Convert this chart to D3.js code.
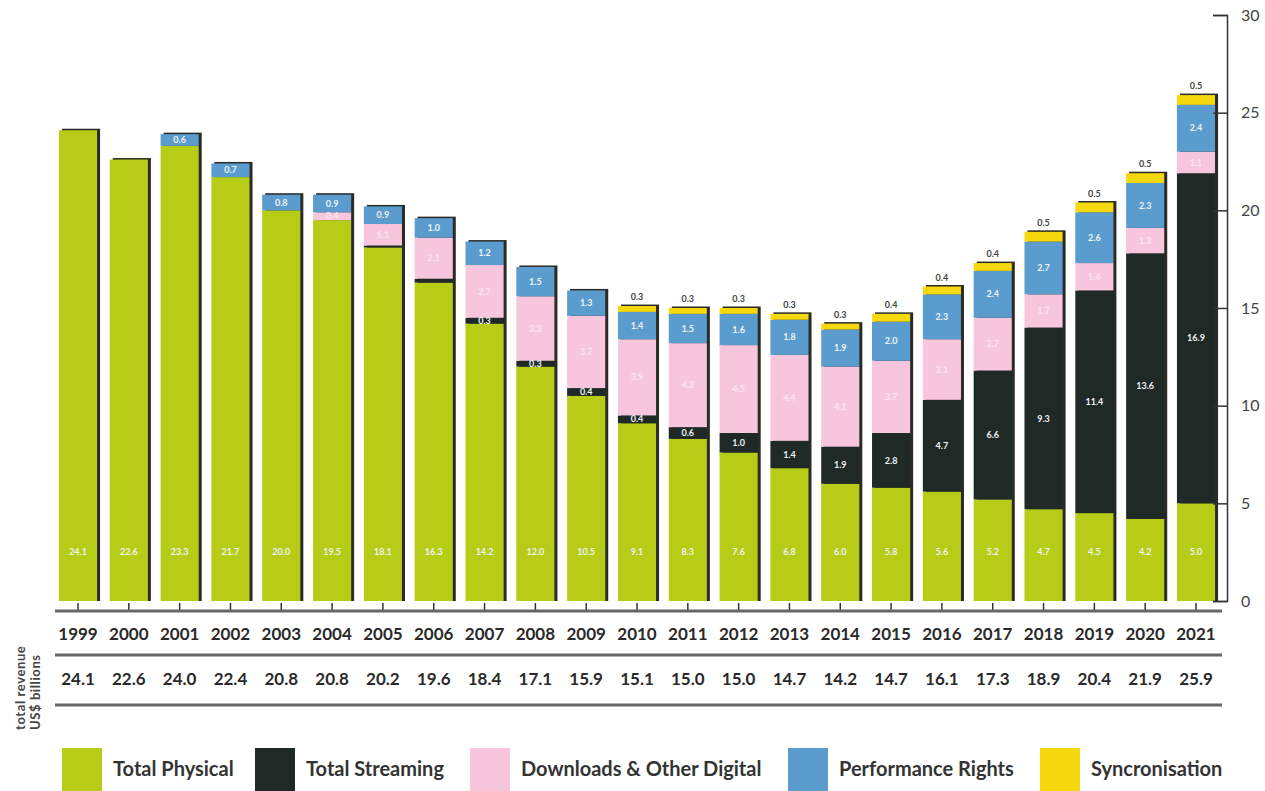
<!DOCTYPE html>
<html>
<head>
<meta charset="utf-8">
<script src="https://cdn.jsdelivr.net/npm/d3@7"></script>
<style>
  body { margin: 0; background: #fff; }
  svg { display: block; font-family: Lato, "Open Sans", sans-serif; }
</style>
</head>
<body>
<div id="chart"></div>
<script>
// values in US$ billions
const years      = ['1999','2000','2001','2002','2003','2004','2005','2006','2007','2008','2009','2010','2011','2012','2013','2014','2015','2016','2017','2018','2019','2020','2021'];
const physical   = [24.1, 22.6, 23.3, 21.7, 20.0, 19.5, 18.1, 16.3, 14.2, 12.0, 10.5, 9.1, 8.3, 7.6, 6.8, 6.0, 5.8, 5.6, 5.2, 4.7, 4.5, 4.2, 5.0];
const streaming  = [0, 0, 0, 0, 0, 0, 0.1, 0.2, 0.3, 0.3, 0.4, 0.4, 0.6, 1.0, 1.4, 1.9, 2.8, 4.7, 6.6, 9.3, 11.4, 13.6, 16.9];
const downloads  = [0, 0, 0, 0, 0, 0.4, 1.1, 2.1, 2.7, 3.3, 3.7, 3.9, 4.3, 4.5, 4.4, 4.1, 3.7, 3.1, 2.7, 1.7, 1.4, 1.3, 1.1];
const perfRights = [0, 0, 0.6, 0.7, 0.8, 0.9, 0.9, 1.0, 1.2, 1.5, 1.3, 1.4, 1.5, 1.6, 1.8, 1.9, 2.0, 2.3, 2.4, 2.7, 2.6, 2.3, 2.4];
const sync       = [0, 0, 0, 0, 0, 0, 0, 0, 0, 0, 0, 0.3, 0.3, 0.3, 0.3, 0.3, 0.4, 0.4, 0.4, 0.5, 0.5, 0.5, 0.5];
const totals     = ['24.1','22.6','24.0','22.4','20.8','20.8','20.2','19.6','18.4','17.1','15.9','15.1','15.0','15.0','14.7','14.2','14.7','16.1','17.3','18.9','20.4','21.9','25.9'];
const yTicks     = [0, 5, 10, 15, 20, 25, 30];

const seriesKeys   = ['physical', 'streaming', 'downloads', 'perfRights', 'sync'];
const seriesNames  = ['Total Physical', 'Total Streaming', 'Downloads & Other Digital', 'Performance Rights', 'Syncronisation'];
const seriesColors = ['#b6cc16', '#1f2a27', '#f7c6dc', '#5a9ccd', '#f6d80e'];

const width = 1265, height = 791;

const rows = years.map((y, i) => ({
  year: y,
  physical: physical[i],
  streaming: streaming[i],
  downloads: downloads[i],
  perfRights: perfRights[i],
  sync: sync[i]
}));

const svg = d3.select('#chart')
  .append('svg')
    .attr('width', width)
    .attr('height', height);

const x = d3.scaleBand()
  .domain(years)
  .range([52.6, 1221.4])
  .paddingInner(0.25)
  .paddingOuter(0.125);

const y = d3.scaleLinear()
  .domain([0, 30])
  .range([601, 15]);

const color = d3.scaleOrdinal()
  .domain(seriesKeys)
  .range(seriesColors);

const stacked = d3.stack().keys(seriesKeys)(rows);

// drop shadow behind each bar
const barTotal = i => physical[i] + streaming[i] + downloads[i] + perfRights[i] + sync[i];
svg.append('g')
  .selectAll('rect')
  .data(years.map((yr, i) => i))
  .enter()
    .append('rect')
    .attr('x', i => x(years[i]) + 3)
    .attr('y', i => y(barTotal(i)) - 1.5)
    .attr('width', x.bandwidth())
    .attr('height', i => y(0) - y(barTotal(i)) + 1.5)
    .attr('fill', '#2a2a26');

// stacked segments
const layers = svg.append('g')
  .selectAll('g')
  .data(stacked)
  .enter()
    .append('g')
    .attr('fill', d => color(d.key));

layers.selectAll('rect')
  .data(d => d)
  .enter()
    .append('rect')
    .attr('x', d => x(d.data.year))
    .attr('y', d => y(d[1]))
    .attr('width', x.bandwidth())
    .attr('height', d => Math.max(0, y(d[0]) - y(d[1])));

// value labels inside segments
const fmt = d3.format('.1f');
stacked.forEach(layer => {
  if (layer.key === 'sync') return;
  const g = svg.append('g');
  g.selectAll('text')
    .data(layer.filter(d => d[1] - d[0] >= 0.3))
    .enter()
      .append('text')
      .attr('x', d => x(d.data.year) + x.bandwidth() / 2)
      .attr('y', d => layer.key === 'physical' ? y(2.5) : y((d[0] + d[1]) / 2))
      .attr('dy', '0.35em')
      .attr('text-anchor', 'middle')
      .attr('font-size', 9)
      .attr('font-weight', 700)
      .attr('fill', layer.key === 'downloads' ? '#fbe6ef' : '#eef3f6')
      .text(d => fmt(d[1] - d[0]));
});

// syncronisation labels sit above the bar
const syncLayer = stacked.find(s => s.key === 'sync');
svg.append('g')
  .selectAll('text')
  .data(syncLayer.filter(d => d[1] - d[0] > 0))
  .enter()
    .append('text')
    .attr('x', d => x(d.data.year) + x.bandwidth() / 2)
    .attr('y', d => y(d[1]) - 6)
    .attr('text-anchor', 'middle')
    .attr('font-size', 9)
    .attr('font-weight', 700)
    .attr('fill', '#444')
    .text(d => fmt(d[1] - d[0]));

// right axis
const axis = svg.append('g')
  .attr('transform', 'translate(1227,0)')
  .call(d3.axisLeft(y).tickValues(yTicks).tickSize(14).tickFormat(d3.format('d')));
axis.select('.domain').attr('stroke', '#333').attr('stroke-width', 1.5);
axis.selectAll('.tick line').attr('stroke', '#333').attr('stroke-width', 1.5);
axis.selectAll('.tick text')
  .attr('x', 14)
  .attr('text-anchor', 'start')
  .attr('font-size', 16)
  .attr('font-family', 'Lato, sans-serif')
  .attr('fill', '#444');

// baseline ticks under bars
svg.append('g')
  .selectAll('line')
  .data(years)
  .enter()
    .append('line')
    .attr('x1', d => x(d) + x.bandwidth() / 2)
    .attr('x2', d => x(d) + x.bandwidth() / 2)
    .attr('y1', 603)
    .attr('y2', 611)
    .attr('stroke', '#333')
    .attr('stroke-width', 1.5);

// horizontal rules of the table
[611, 655, 705].forEach(ly => {
  svg.append('line')
    .attr('x1', 55).attr('x2', 1222)
    .attr('y1', ly).attr('y2', ly)
    .attr('stroke', '#666')
    .attr('stroke-width', 3);
});

// year row
svg.append('g')
  .selectAll('text')
  .data(years)
  .enter()
    .append('text')
    .attr('x', d => x(d) + x.bandwidth() / 2)
    .attr('y', 640)
    .attr('text-anchor', 'middle')
    .attr('font-size', 17)
    .attr('font-weight', 700)
    .attr('fill', '#2a2a2a')
    .text(d => d);

// totals row
svg.append('g')
  .selectAll('text')
  .data(totals)
  .enter()
    .append('text')
    .attr('x', (d, i) => x(years[i]) + x.bandwidth() / 2)
    .attr('y', 685)
    .attr('text-anchor', 'middle')
    .attr('font-size', 17)
    .attr('font-weight', 700)
    .attr('fill', '#2a2a2a')
    .text(d => d);

// rotated row caption
const cap = svg.append('text')
  .attr('transform', 'translate(25,730) rotate(-90)')
  .attr('text-anchor', 'start')
  .attr('font-size', 13)
  .attr('font-weight', 700)
  .attr('letter-spacing', 0.6)
  .attr('fill', '#444');
cap.append('tspan').attr('x', 0).attr('dy', 0).text('total revenue');
cap.append('tspan').attr('x', 0).attr('dy', 15).text('US$ billions');

// legend
const legendX = [62, 255, 470, 788, 1040];
const legend = svg.append('g')
  .selectAll('g')
  .data(seriesKeys)
  .enter()
    .append('g')
    .attr('transform', (d, i) => `translate(${legendX[i]},748)`);

legend.append('rect')
  .attr('width', 40)
  .attr('height', 43)
  .attr('fill', d => color(d));

legend.append('text')
  .attr('x', 51)
  .attr('y', 21)
  .attr('dy', '0.35em')
  .attr('font-size', 20)
  .attr('font-weight', 700)
  .attr('fill', '#333')
  .text((d, i) => seriesNames[i]);
</script>
</body>
</html>
